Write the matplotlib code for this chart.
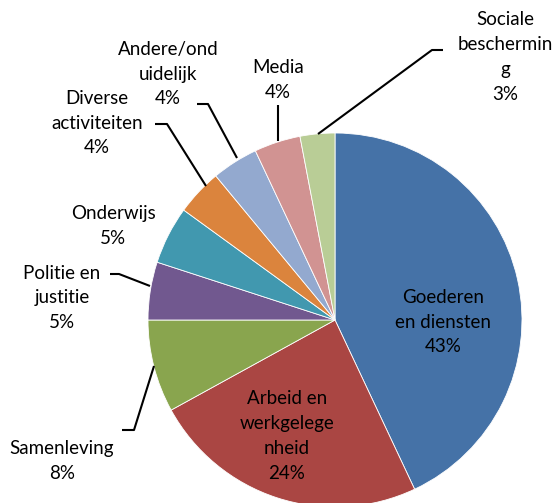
import matplotlib.pyplot as plt

W, H = 555, 503

labels = ['Goederen\nen diensten\n43%', 'Arbeid en\nwerkgelege\nnheid\n24%',
          'Samenleving\n8%', 'Politie en\njustitie\n5%', 'Onderwijs\n5%',
          'Diverse\nactiviteiten\n4%', 'Andere/ond\nuidelijk\n4%',
          'Media\n4%', 'Sociale\nbeschermin\ng\n3%']
values = [43, 24, 8, 5, 5, 4, 4, 4, 3]
colors = ['#4572A7', '#AA4643', '#89A54E', '#71588F', '#4198AF',
          '#DB843D', '#93A9CF', '#D19392', '#B9CD96']

# label positions (pixels from top-left)
label_pos = [(443, 322), (287, 436), (62, 461), (62, 298), (113, 226),
             (97, 123), (168, 74), (278, 80), (505, 57)]
leaders = [None, None,
           [(122, 430), (134, 430), (154, 366)],
           [(110, 274), (119, 274), (150, 286)],
           None,
           [(155, 124), (167, 124), (206, 186)],
           [(197, 104), (208, 104), (237, 158)],
           [(278, 105), (278, 141)],
           [(443, 50), (432, 50), (318, 134)]]

plt.rcParams['font.family'] = ['Lato', 'DejaVu Sans']

fig = plt.figure(figsize=(W / 100, H / 100), dpi=100)
ax = fig.add_axes([0, 0, 1, 1])

ax.pie(values, colors=colors, startangle=90, counterclock=False,
       center=(335, H - 320), radius=187,
       wedgeprops=dict(edgecolor='white', linewidth=0.6))

for lab, (x, y) in zip(labels, label_pos):
    ax.text(x, H - y, lab, ha='center', va='center', fontsize=13.5,
            linespacing=1.55, color='black')

for pts in leaders:
    if pts is None:
        continue
    xs = [p[0] for p in pts]
    ys = [H - p[1] for p in pts]
    ax.plot(xs, ys, color='black', lw=1.5, solid_capstyle='butt')

ax.set_xlim(0, W)
ax.set_ylim(0, H)
ax.set_aspect('equal')
ax.axis('off')

fig.savefig('out.png', dpi=100)
